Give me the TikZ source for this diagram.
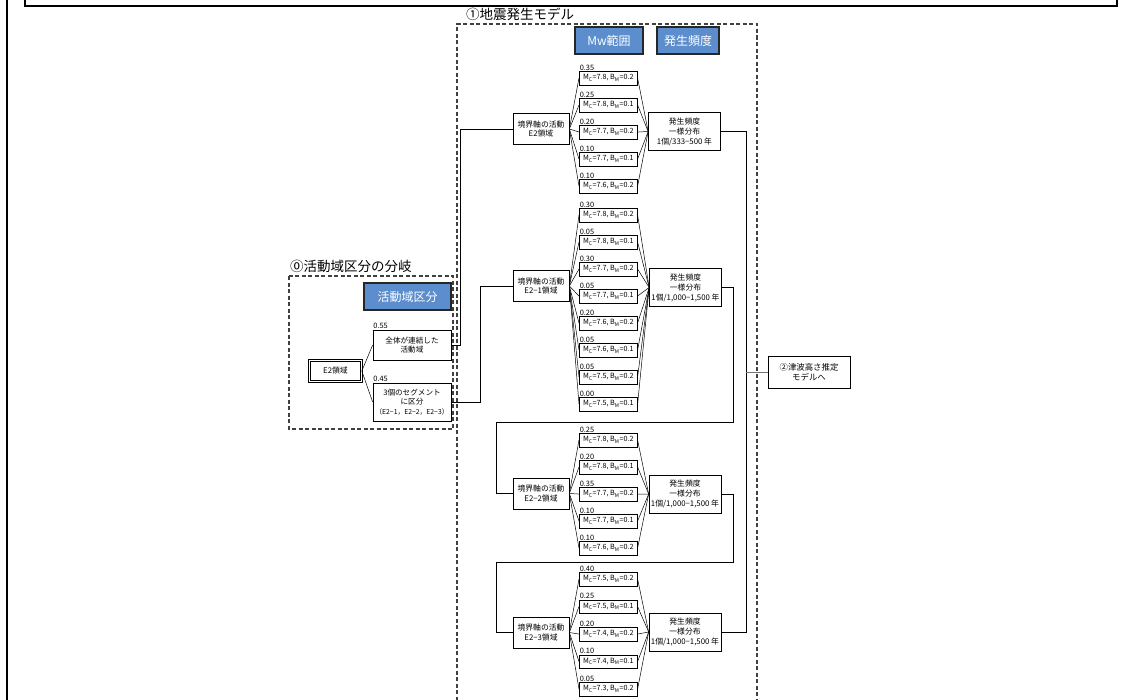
\documentclass[tikz,border=0pt]{standalone}
\usepackage{fontspec}
\setmainfont{Noto Sans CJK JP}
\definecolor{hdrblue}{RGB}{92,142,206}
\begin{document}
\begin{tikzpicture}[x=1pt,y=-1pt,
 mbox/.style={draw, line width=0.6pt, minimum width=58pt, minimum height=13.5pt, inner sep=0pt, anchor=north west, font=\fontsize{7.2}{7.5}\selectfont},
 plab/.style={anchor=south west, inner sep=0.6pt, font=\fontsize{7.4}{8}\selectfont},
 act/.style={draw, line width=0.7pt, minimum width=56pt, minimum height=31pt, inner sep=1pt, align=center, font=\fontsize{7.8}{9.5}\selectfont},
 freq/.style={draw, line width=0.7pt, minimum width=72pt, minimum height=38pt, inner sep=1pt, align=center, font=\fontsize{7.8}{10}\selectfont},
 fan/.style={line width=0.5pt},
 conn/.style={line width=0.9pt},
 hdr/.style={draw=black!85, line width=1.2pt, fill=hdrblue, text=white, font=\fontsize{12}{14}\selectfont, inner sep=0pt},
 dbox/.style={draw=black!75, line width=1.3pt, dash pattern=on 4pt off 2.5pt},
 ttl/.style={anchor=west, inner sep=0pt, font=\fontsize{13.5}{15}\selectfont},
 sbox/.style={draw, line width=0.7pt, inner sep=1pt, align=center, font=\fontsize{7.6}{9.5}\selectfont}
]
\useasboundingbox (0,0) rectangle (1132,699);
\clip (0,0) rectangle (1132,699);

% outer frame
\draw[line width=1.3pt] (25,-5) -- (25,6) -- (1117,6) -- (1117,-5);
\draw[line width=1.8pt] (7,-5) -- (7,705);

% dashed groups
\draw[dbox] (289,276) rectangle (453,429);
\draw[dbox] (457,720) -- (457,24) -- (757,24) -- (757,720);
\node[ttl] (t0) at (290,266) {⓪活動域区分の分岐};
\node[ttl] (t1) at (466,14) {①地震発生モデル};

% headers
\node[hdr, minimum width=87pt, minimum height=27pt] (h0) at (407.5,296.5) {活動域区分};
\node[hdr, minimum width=68pt, minimum height=27pt] (h1) at (609,40.5) {Mw範囲};
\node[hdr, minimum width=62pt, minimum height=27pt] (h2) at (688,40.5) {発生頻度};

% section 0
\node[draw, line width=0.6pt, double=white, double distance=1.6pt, minimum width=52pt, minimum height=21pt, inner sep=0pt, font=\fontsize{7.8}{9}\selectfont] (E2) at (335.5,371) {E2領域};
\node[sbox, minimum width=78pt, minimum height=30pt] (Z1) at (412,345) {全体が連結した\\活動域};
\node[sbox, minimum width=78pt, minimum height=38pt] (Z2) at (412,402) {3個のセグメント\\に区分\\{\fontsize{6.8}{8}\selectfont （E2−1，E2−2，E2−3）}};
\node[plab] (pZ1) at (Z1.north west) {0.55};
\node[plab] (pZ2) at (Z2.north west) {0.45};
\draw[fan] (E2.east) -- (Z1.west);
\draw[fan] (E2.east) -- (Z2.west);

% activity nodes and frequency nodes
\node[act] (N0) at (541,129) {境界軸の活動\\E2領域};
\node[freq] (F0) at (684.5,131.5) {発生頻度\\一様分布\\1個/333−500 年};
\node[act] (N1) at (541,286) {境界軸の活動\\E2−1領域};
\node[freq] (F1) at (685.5,287.5) {発生頻度\\一様分布\\1個/1,000−1,500 年};
\node[act] (N2) at (541,493.5) {境界軸の活動\\E2−2領域};
\node[freq] (F2) at (685,494) {発生頻度\\一様分布\\1個/1,000−1,500 年};
\node[act] (N3) at (541,632.5) {境界軸の活動\\E2−3領域};
\node[freq] (F3) at (685,632) {発生頻度\\一様分布\\1個/1,000−1,500 年};

% branches E2
\foreach \p/\mc/\bm [count=\i] in {0.35/7.8/0.2, 0.25/7.8/0.1, 0.20/7.7/0.2, 0.10/7.7/0.1, 0.10/7.6/0.2} {
  \node[mbox] (A\i) at ({579},{71+27*(\i-1)}) {M\textsubscript{C}=\mc, B\textsubscript{M}=\bm};
  \node[plab] (pA\i) at (A\i.north west) {\p};
  \draw[fan] (N0.east) -- (A\i.west);
  \draw[fan] (A\i.east) -- (F0.west);
}
% branches E2-1
\foreach \p/\mc/\bm [count=\i] in {0.30/7.8/0.2, 0.05/7.8/0.1, 0.30/7.7/0.2, 0.05/7.7/0.1, 0.20/7.6/0.2, 0.05/7.6/0.1, 0.05/7.5/0.2, 0.00/7.5/0.1} {
  \node[mbox] (B\i) at ({579},{208+27*(\i-1)}) {M\textsubscript{C}=\mc, B\textsubscript{M}=\bm};
  \node[plab] (pB\i) at (B\i.north west) {\p};
  \draw[fan] (N1.east) -- (B\i.west);
  \draw[fan] (B\i.east) -- (F1.west);
}
% branches E2-2
\foreach \p/\mc/\bm [count=\i] in {0.25/7.8/0.2, 0.20/7.8/0.1, 0.35/7.7/0.2, 0.10/7.7/0.1, 0.10/7.6/0.2} {
  \node[mbox] (C\i) at ({579},{433+27*(\i-1)}) {M\textsubscript{C}=\mc, B\textsubscript{M}=\bm};
  \node[plab] (pC\i) at (C\i.north west) {\p};
  \draw[fan] (N2.east) -- (C\i.west);
  \draw[fan] (C\i.east) -- (F2.west);
}
% branches E2-3
\foreach \p/\mc/\bm [count=\i] in {0.40/7.5/0.2, 0.25/7.5/0.1, 0.20/7.4/0.2, 0.10/7.4/0.1, 0.05/7.3/0.2} {
  \node[mbox] (D\i) at ({579},{572+27.5*(\i-1)}) {M\textsubscript{C}=\mc, B\textsubscript{M}=\bm};
  \node[plab] (pD\i) at (D\i.north west) {\p};
  \draw[fan] (N3.east) -- (D\i.west);
  \draw[fan] (D\i.east) -- (F3.west);
}

% connectors between sections
\draw[conn] (Z1.east) -- ++(9,0) |- (N0.west);
\draw[conn] (Z2.east) -- ++(29,0) |- (N1.west);
\coordinate (c1) at (496,422);
\coordinate (c2) at (496,562);
\draw[conn] (F1.east) -- ++(12,0) |- (c1) |- (N2.west);
\draw[conn] (F2.east) -- ++(12,0) |- (c2) |- (N3.west);
\coordinate (rb) at (746,632);
\draw[conn] (F0.east) -| (rb) -- (F3.east);

% output
\node[sbox, minimum width=82pt, minimum height=32pt, font=\fontsize{8.4}{10.5}\selectfont] (T) at (809,372) {②津波高さ推定\\モデルへ};
\draw[line width=0.9pt, draw=black!55] (T.west) -- (T.west -| rb);
\end{tikzpicture}
\end{document}
